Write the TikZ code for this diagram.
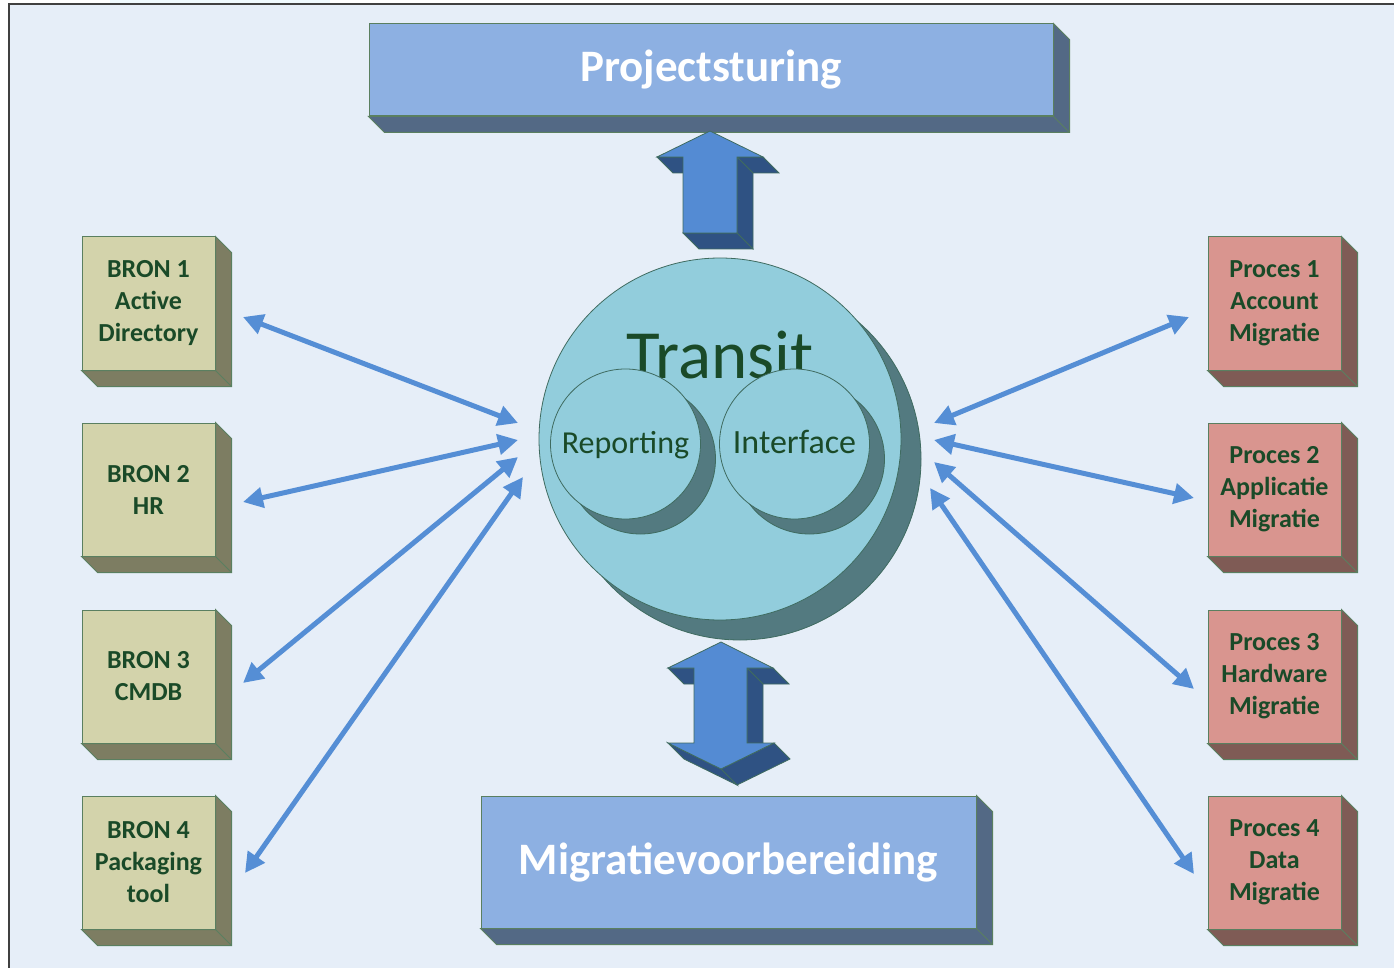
\documentclass[tikz,border=0pt]{standalone}
\usepackage{fontspec}
\setmainfont{Carlito}
\usetikzlibrary{arrows.meta,calc}
\definecolor{bgc}{HTML}{E6EEF8}
\definecolor{bronf}{HTML}{D3D3AB}
\definecolor{brond}{HTML}{7D7D62}
\definecolor{procf}{HTML}{D9958F}
\definecolor{procd}{HTML}{7F5B55}
\definecolor{bluef}{HTML}{8DB0E2}
\definecolor{blued}{HTML}{536985}
\definecolor{bordc}{HTML}{5A7F60}
\definecolor{txtc}{HTML}{1A4A28}
\definecolor{linec}{HTML}{558ED5}
\definecolor{barf}{HTML}{548BD3}
\definecolor{bard}{HTML}{2F5283}
\definecolor{circf}{HTML}{92CDDC}
\definecolor{circd}{HTML}{537A80}
\definecolor{circb}{HTML}{3F6B60}
\tikzset{
  smallbox/.style={draw=bordc, line width=1pt, minimum width=133pt, minimum height=133pt, inner sep=0pt, align=center, text=txtc, font={\fontsize{26}{32}\selectfont\bfseries}},
  bronbox/.style={smallbox, fill=bronf},
  procbox/.style={smallbox, fill=procf},
  titlebox/.style={draw=bordc, line width=1pt, fill=bluef, inner sep=0pt, text=white, font={\fontsize{45}{54}\selectfont\bfseries}},
  link/.style={draw=linec, line width=5pt, {Triangle[length=20pt,width=20pt]}-{Triangle[length=20pt,width=20pt]}},
  barface/.style={fill=barf, draw=circb, line width=0.8pt},
  bardepth/.style={fill=bard, draw=circb, line width=0.8pt},
  bigcirc/.style={circle, draw=circb, line width=0.8pt, inner sep=0pt}
}
\newcommand\boxdepth[2]{%
  \filldraw[fill=#2, draw=bordc, line width=1pt] (#1.north east) -- ++(16,16) -- ($(#1.south east)+(16,16)$) -- ($(#1.south west)+(16,16)$) -- (#1.south west) -- (#1.south east) -- cycle;
  \draw[bordc, line width=1pt] (#1.south east) -- ++(16,16);
}
\begin{document}
\begin{tikzpicture}[x=1pt,y=-1pt]
\useasboundingbox (0,0) rectangle (1394,968);
\fill[white] (0,0) rectangle (1394,968);
\fill[bgc] (9,4) rectangle (1394,968);
\fill[cyan!6] (110,0) rectangle (330,4);
\draw[line width=1.5pt, color=black!75] (9,968) -- (9,4) -- (1394,4);

% title boxes
\node[titlebox, minimum width=684pt, minimum height=92pt] (proj) at (711,70) {Projectsturing};
\boxdepth{proj}{blued}
\node[titlebox, minimum width=495pt, minimum height=132pt] (migr) at (728.5,862) {Migratievoorbereiding};
\boxdepth{migr}{blued}

% BRON boxes
\node[bronbox] (b1) at (148.5,303.5) {BRON 1\\Active\\Directory};
\node[bronbox] (b2) at (148.5,489.5) {BRON 2\\HR};
\node[bronbox] (b3) at (148.5,676.5) {BRON 3\\CMDB};
\node[bronbox] (b4) at (148.5,862.5) {BRON 4\\Packaging\\tool};
\foreach \n in {b1,b2,b3,b4} {\boxdepth{\n}{brond}}

% Proces boxes
\node[procbox] (p1) at (1274.5,303.5) {Proces 1\\Account\\Migratie};
\node[procbox] (p2) at (1274.5,489.5) {Proces 2\\Applicatie\\Migratie};
\node[procbox] (p3) at (1274.5,676.5) {Proces 3\\Hardware\\Migratie};
\node[procbox] (p4) at (1274.5,862.5) {Proces 4\\Data\\Migratie};
\foreach \n in {p1,p2,p3,p4} {\boxdepth{\n}{procd}}

% central circle
\node[bigcirc, fill=circd, minimum size=362pt] (tshadow) at (740,459) {};
\node[bigcirc, fill=circf, minimum size=362pt] (transit) at (720,439) {};
\node[anchor=base, text=txtc, font={\fontsize{69}{75}\selectfont}, inner sep=0pt] (ttext) at (720,378) {Transit};
\node[bigcirc, fill=circd, minimum size=150pt] (repsh) at (640.5,459) {};
\node[bigcirc, fill=circf, minimum size=150pt] (rep) at (625.5,444) {};
\node[anchor=base, text=txtc, font={\fontsize{32}{38}\selectfont}, inner sep=0pt] (reptext) at (625.5,453) {Reporting};
\node[bigcirc, fill=circd, minimum size=150pt] (intsh) at (809.5,459) {};
\node[bigcirc, fill=circf, minimum size=150pt] (int) at (794.5,444) {};
\node[anchor=base, text=txtc, font={\fontsize{34}{40}\selectfont}, inner sep=0pt] (inttext) at (794.5,453) {Interface};

% up block arrow
\filldraw[bardepth] (763,157) -- (737,157) -- (753,173) -- (779,173) -- cycle;
\filldraw[bardepth] (737,157) -- (737,233) -- (753,249) -- (753,173) -- cycle;
\filldraw[bardepth] (737,233) -- (683,233) -- (699,249) -- (753,249) -- cycle;
\filldraw[bardepth] (683,157) -- (657,157) -- (673,173) -- (699,173) -- cycle;
\filldraw[barface] (710,131) -- (763,157) -- (737,157) -- (737,233) -- (683,233) -- (683,157) -- (657,157) -- cycle;

% double block arrow
\filldraw[bardepth] (773,668) -- (747,668) -- (763,684) -- (789,684) -- cycle;
\filldraw[bardepth] (747,668) -- (747,743) -- (763,759) -- (763,684) -- cycle;
\filldraw[bardepth] (694,668) -- (668,668) -- (684,684) -- (710,684) -- cycle;
\filldraw[bardepth] (774,743) -- (721,769) -- (737,785) -- (790,759) -- cycle;
\filldraw[bardepth] (721,769) -- (668,743) -- (684,759) -- (737,785) -- cycle;
\filldraw[barface] (721,642) -- (773,668) -- (747,668) -- (747,743) -- (774,743) -- (721,769) -- (668,743) -- (694,743) -- (694,668) -- (668,668) -- cycle;

% connector end points
\coordinate (l1o) at (243,317); \coordinate (l1i) at (518,423);
\coordinate (l2o) at (243,502); \coordinate (l2i) at (518,440);
\coordinate (l3o) at (243,683); \coordinate (l3i) at (518,457);
\coordinate (l4o) at (245,873); \coordinate (l4i) at (523,477);
\coordinate (r1o) at (1189,317); \coordinate (r1i) at (934,423);
\coordinate (r2o) at (1194,498); \coordinate (r2i) at (934,440);
\coordinate (r3o) at (1194,689); \coordinate (r3i) at (934,462);
\coordinate (r4o) at (1194,874); \coordinate (r4i) at (930,488);
\foreach \s in {l1,l2,l3,l4,r1,r2,r3,r4} {\draw[link] (\s o) -- (\s i);}
\end{tikzpicture}
\end{document}
